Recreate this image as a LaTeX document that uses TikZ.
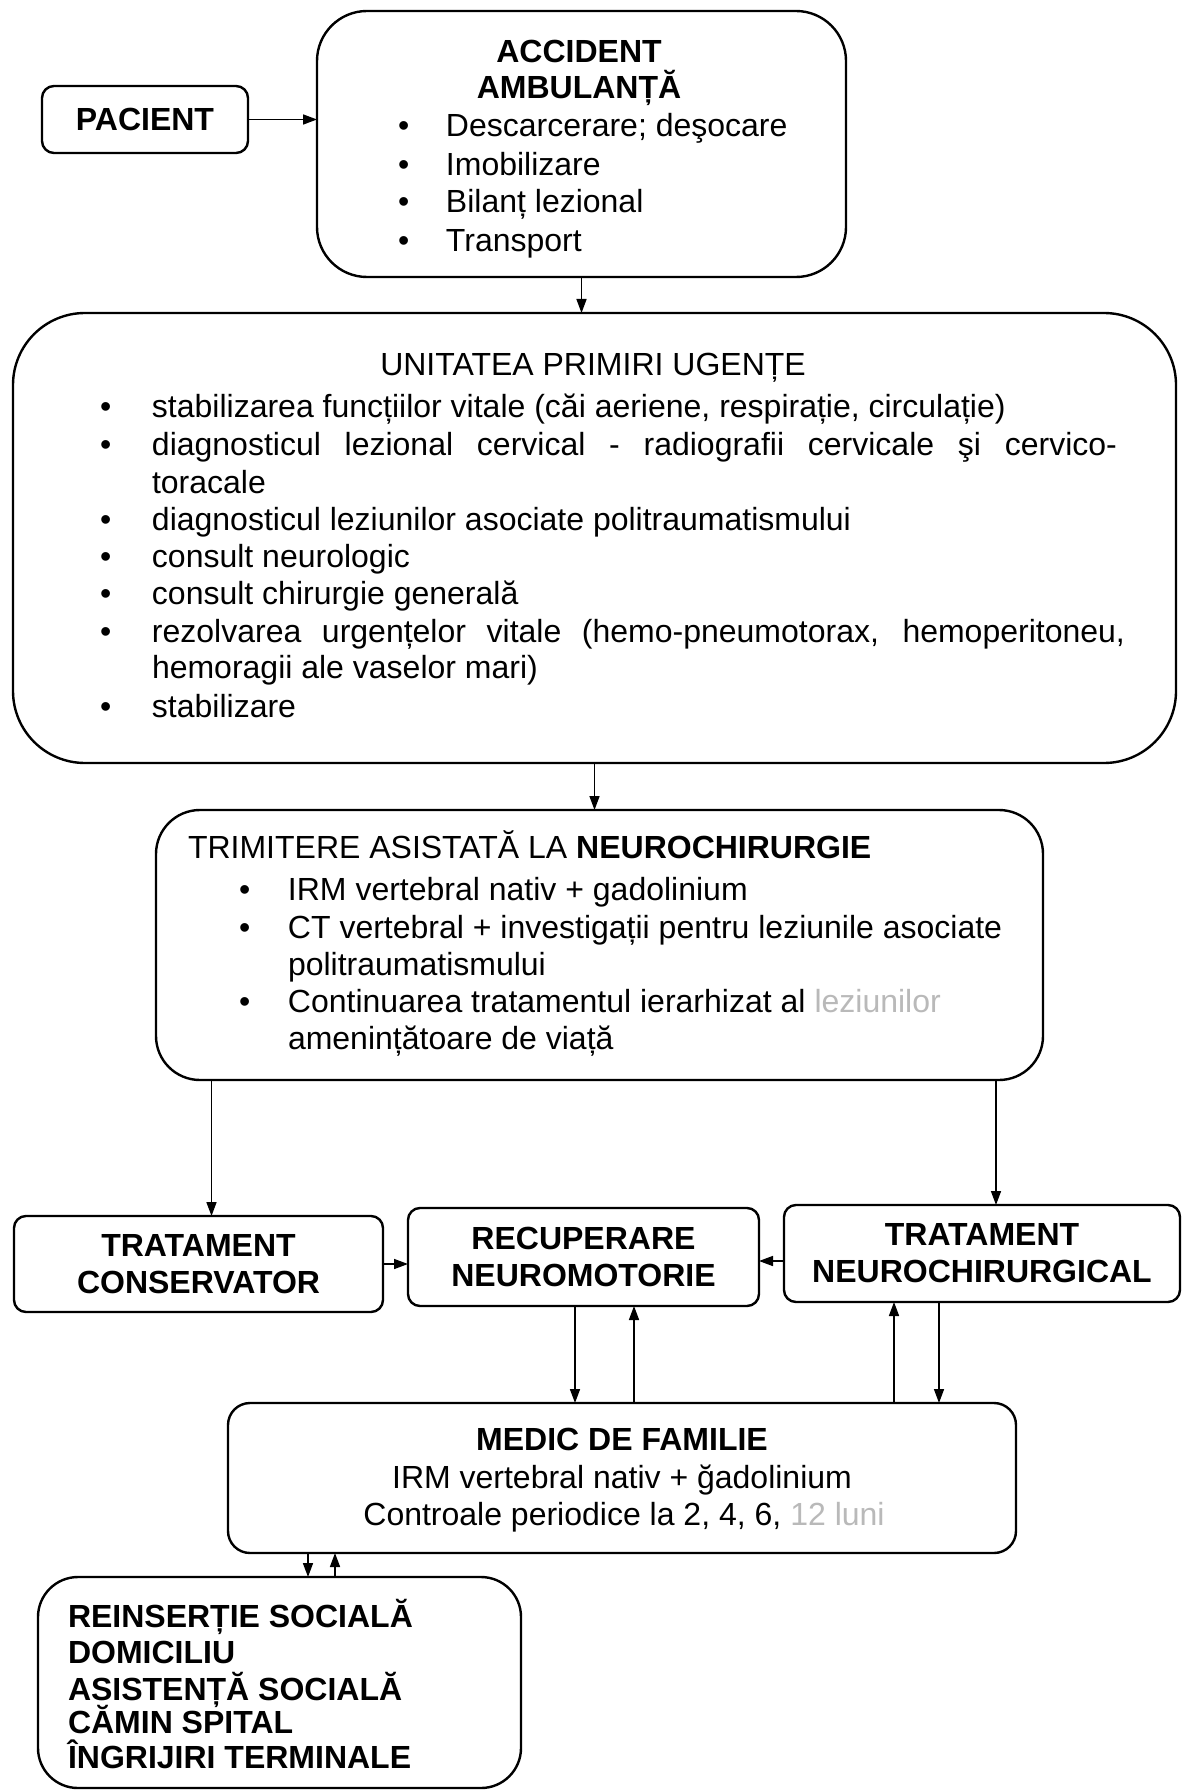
\documentclass[tikz,border=0pt]{standalone}
\usepackage{fontspec}
\setmainfont{Liberation Sans}
\usetikzlibrary{arrows.meta}
\newcommand\mybul[1]{\makebox[#1][l]{•}}
\begin{document}
\begin{tikzpicture}[x=0.5pt,y=-0.5pt,
  every node/.style={font=\fontsize{16pt}{18.4pt}\selectfont, inner sep=0pt, outer sep=0pt},
  box/.style={draw, line width=1.2pt, rounded corners=#1, inner sep=0pt},
  box/.default=6pt,
  txt/.style={anchor=base west},
  ctr/.style={anchor=base},
  bold/.style={font=\fontsize{16pt}{18.4pt}\selectfont\bfseries},
  arr/.style={line width=0.8pt, -{Triangle[length=7pt,width=5pt]}},
]
\path[fill=white] (0,0) rectangle (1191,1791);
\useasboundingbox (0,0) rectangle (1191,1791);

% PACIENT
\node[box=6pt, bold, minimum width=103pt, minimum height=33.5pt] (pac) at (145,119.5) {PACIENT};

% ACCIDENT
\node[box=25pt, minimum width=264.5pt, minimum height=133pt] (acc) at (581.5,144) {};
\node[ctr, bold] (accT1) at (579,63) {ACCIDENT};
\node[ctr, bold] (accT2) at (579,99) {AMBULANȚĂ};
\node[txt] (acc1) at (398,137) {\mybul{24pt}Descarcerare; deşocare};
\node[txt] (acc2) at (398,176) {\mybul{24pt}Imobilizare};
\node[txt] (acc3) at (398,213) {\mybul{24pt}Bilanț lezional};
\node[txt] (acc4) at (398,252) {\mybul{24pt}Transport};

% UNITATEA
\node[box=36pt, minimum width=581.5pt, minimum height=225pt] (uni) at (594.5,538) {};
\node[ctr] (uniT) at (593,376) {UNITATEA PRIMIRI UGENȚE};
\node[txt] (u1) at (100,418) {\mybul{26pt}stabilizarea funcțiilor vitale (căi aeriene, respirație, circulație)};
\node[txt] (u2) at (100,455) {\mybul{26pt}\makebox[482.5pt][s]{diagnosticul lezional cervical - radiografii cervicale şi cervico-}};
\node[txt] (u3) at (152,493) {toracale};
\node[txt] (u4) at (100,530) {\mybul{26pt}diagnosticul leziunilor asociate politraumatismului};
\node[txt] (u5) at (100,567) {\mybul{26pt}consult neurologic};
\node[txt] (u6) at (100,604) {\mybul{26pt}consult chirurgie generală};
\node[txt] (u7) at (100,642) {\mybul{26pt}\makebox[486.5pt][s]{rezolvarea urgențelor vitale (hemo-pneumotorax, hemoperitoneu,}};
\node[txt] (u8) at (152,678) {hemoragii ale vaselor mari)};
\node[txt] (u9) at (100,717) {\mybul{26pt}stabilizare};

% TRIMITERE
\node[box=22pt, minimum width=443.5pt, minimum height=135pt] (tri) at (599.5,945) {};
\node[txt] (triT) at (188,858) {TRIMITERE ASISTATĂ LA \textbf{NEUROCHIRURGIE}};
\node[txt] (t1) at (239,900) {\mybul{24.5pt}IRM vertebral nativ + gadolinium};
\node[txt] (t2) at (239,938) {\mybul{24.5pt}CT vertebral + investigații pentru leziunile asociate};
\node[txt] (t3) at (288,975) {politraumatismului};
\node[txt] (t4) at (239,1012) {\mybul{24.5pt}Continuarea tratamentul ierarhizat al {\color{gray!55}leziunilor}};
\node[txt] (t5) at (288,1049) {amenințătoare de viață};

% middle row
\node[box=6pt, bold, align=center, minimum width=184.5pt, minimum height=48pt] (cons) at (198.5,1264) {TRATAMENT\\CONSERVATOR};
\node[box=6pt, bold, align=center, minimum width=175.5pt, minimum height=49pt] (rec) at (583.5,1257) {RECUPERARE\\NEUROMOTORIE};
\node[box=6pt, bold, align=center, minimum width=198pt, minimum height=48.5pt] (neu) at (982,1253.5) {TRATAMENT\\NEUROCHIRURGICAL};

% MEDIC
\node[box=11pt, minimum width=394pt, minimum height=75pt] (med) at (622,1478) {};
\node[ctr, bold] (m1) at (622,1450) {MEDIC DE FAMILIE};
\node[ctr] (m2) at (622,1488) {IRM vertebral nativ + ğadolinium};
\node[ctr] (m3) at (624,1525) {Controale periodice la 2, 4, 6, {\color{gray!55}12 luni}};

% REINSERTIE
\node[box=20pt, minimum width=241.5pt, minimum height=105.5pt] (rei) at (279.5,1682.5) {};
\node[txt, bold] (r1) at (68,1627) {REINSERȚIE SOCIALĂ};
\node[txt, bold] (r2) at (68,1663) {DOMICILIU};
\node[txt, bold] (r3) at (68,1700) {ASISTENȚĂ SOCIALĂ};
\node[txt, bold] (r4) at (68,1733) {CĂMIN SPITAL};
\node[txt, bold] (r5) at (68,1768) {ÎNGRIJIRI TERMINALE};

% connectors
\draw[arr] (pac.east) -- (pac.east -| acc.west);
\draw[arr] (acc.south) -- (acc.south |- uni.north);
\draw[arr] (uni.south) -- (uni.south |- tri.north);
\coordinate (a1) at ([xshift=6.5pt]cons.north);
\draw[arr] (a1 |- tri.south) -- (a1);
\coordinate (a2) at ([xshift=7pt]neu.north);
\draw[arr] (a2 |- tri.south) -- (a2);
\draw[arr] (cons.east) -- (cons.east -| rec.west);
\coordinate (a3) at ([yshift=-3.75pt]neu.west);
\draw[arr] (a3) -- (a3 -| rec.east);
\coordinate (a4) at ([xshift=-4.25pt]rec.south);
\draw[arr] (a4) -- (a4 |- med.north);
\coordinate (a5) at ([xshift=25.25pt]rec.south);
\draw[arr] (a5 |- med.north) -- (a5);
\coordinate (a6) at ([xshift=-44pt]neu.south);
\draw[arr] (a6 |- med.north) -- (a6);
\coordinate (a7) at ([xshift=-21.5pt]neu.south);
\draw[arr] (a7) -- (a7 |- med.north);
\coordinate (a8) at ([xshift=14.25pt]rei.north);
\draw[arr] (a8 |- med.south) -- (a8);
\coordinate (a9) at ([xshift=27.75pt]rei.north);
\draw[arr] (a9) -- (a9 |- med.south);
\end{tikzpicture}
\end{document}
